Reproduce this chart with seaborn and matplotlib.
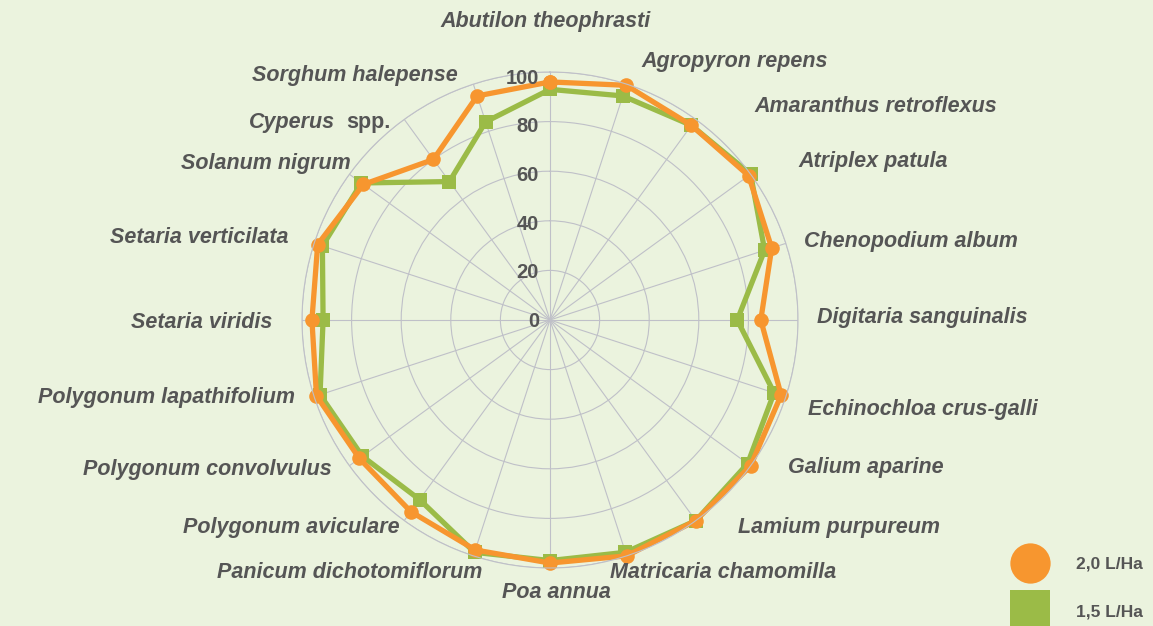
import numpy as np
import pandas as pd
import matplotlib
matplotlib.use("Agg")
import matplotlib.pyplot as plt
import seaborn as sns
from matplotlib.lines import Line2D

# data
species = ["Abutilon theophrasti", "Agropyron repens", "Amaranthus retroflexus",
           "Atriplex patula", "Chenopodium album", "Digitaria sanguinalis",
           "Echinochloa crus-galli", "Galium aparine", "Lamium purpureum",
           "Matricaria chamomilla", "Poa annua", "Panicum dichotomiflorum",
           "Polygonum aviculare", "Polygonum convolvulus", "Polygonum lapathifolium",
           "Setaria viridis", "Setaria verticilata", "Solanum nigrum",
           "Cyperus spp.", "Sorghum halepense"]
dose_20 = [96, 99.5, 97, 99, 94, 85, 98, 100, 100, 100,
           98, 97.5, 95.5, 95, 99, 96, 98.5, 93, 80, 95]
dose_15 = [93, 95, 97, 100, 91, 75.5, 95, 98.5, 100, 98.5,
           97, 98.5, 89.5, 93.5, 97.5, 91.5, 96.5, 94, 69, 84]
r_ticks = [0, 20, 40, 60, 80, 100]
legend_labels = ["2,0 L/Ha", "1,5 L/Ha"]

bg = "#EBF3DE"
orange = "#F7962F"
green = "#9BBB47"
grid_c = "#BFC0C8"
txt_c = "#555555"

sns.set_theme(style="white")
plt.rcParams["font.family"] = ["Liberation Sans", "DejaVu Sans"]

W, H = 1153, 626
fig = plt.figure(figsize=(W / 100, H / 100), dpi=100, facecolor=bg)

cx, cy, R = 550, 320, 248
ax = fig.add_axes([(cx - R) / W, (H - cy - R) / H, 2 * R / W, 2 * R / H], projection="polar")
ax.set_facecolor(bg)
ax.set_theta_zero_location("N")
ax.set_theta_direction(-1)

n = len(species)
theta = np.arange(n) * 2 * np.pi / n
df = pd.DataFrame({"theta": np.r_[theta, 2 * np.pi],
                   "d20": dose_20 + dose_20[:1],
                   "d15": dose_15 + dose_15[:1]})

sns.lineplot(data=df, x="theta", y="d15", sort=False, estimator=None, ax=ax,
             color=green, lw=3.8, marker="s", ms=10, mec=green, mew=0, clip_on=False)
sns.lineplot(data=df, x="theta", y="d20", sort=False, estimator=None, ax=ax,
             color=orange, lw=3.8, marker="o", ms=10.5, mec=orange, mew=0, clip_on=False)

ax.set_ylim(0, 100)
ax.set_yticks(r_ticks)
ax.set_yticklabels([])
ax.set_xticks(theta)
ax.set_xticklabels([])
ax.set_xlabel("")
ax.set_ylabel("")
ax.grid(True, color=grid_c, lw=0.8)
ax.spines["polar"].set_color(grid_c)
ax.spines["polar"].set_linewidth(0.8)

for v in r_ticks:
    ax.annotate(str(v), xy=(0, v), xytext=(-8, -1 - 0.035 * v), textcoords="offset points",
                ha="right", va="center", fontsize=14.5, fontweight="bold", color=txt_c)

# label anchors in pixels (x, y, ha)
label_pos = [(546, 21, "center"), (641, 62, "left"), (754, 107, "left"),
             (798, 162, "left"), (804, 241, "left"), (817, 317, "left"),
             (808, 410, "left"), (788, 467, "left"), (738, 528, "left"),
             (610, 573, "left"), (556, 592, "center"), (482, 572, "right"),
             (400, 528, "right"), (332, 470, "right"), (295, 398, "right"),
             (272, 323, "right"), (289, 238, "right"), (351, 163, "right"),
             (335, 123, "right"), (458, 75, "right")]
lab_kw = dict(fontsize=15.5, fontweight="bold", color=txt_c, va="center")
for name, (x, y, ha) in zip(species, label_pos):
    if name == "Cyperus spp.":
        fig.text(x / W, 1 - y / H, "Cyperus", ha="right", style="italic", **lab_kw)
        fig.text((x + 11) / W, 1 - y / H, "spp.", ha="left", **lab_kw)
    else:
        fig.text(x / W, 1 - y / H, name, ha=ha, style="italic", **lab_kw)

handles = [Line2D([], [], ls="", marker="o", ms=29, color=orange, mew=0),
           Line2D([], [], ls="", marker="s", ms=29, color=green, mew=0)]
leg = fig.legend(handles, legend_labels, loc="center left",
                 bbox_to_anchor=(1013 / W, 1 - 588 / H), frameon=False,
                 prop={"size": 12.5, "weight": "bold"}, labelcolor=txt_c,
                 handlelength=2.0, handletextpad=1.6, labelspacing=1.85,
                 borderpad=0, borderaxespad=0)

fig.savefig("out.png", dpi=100, facecolor=bg)
